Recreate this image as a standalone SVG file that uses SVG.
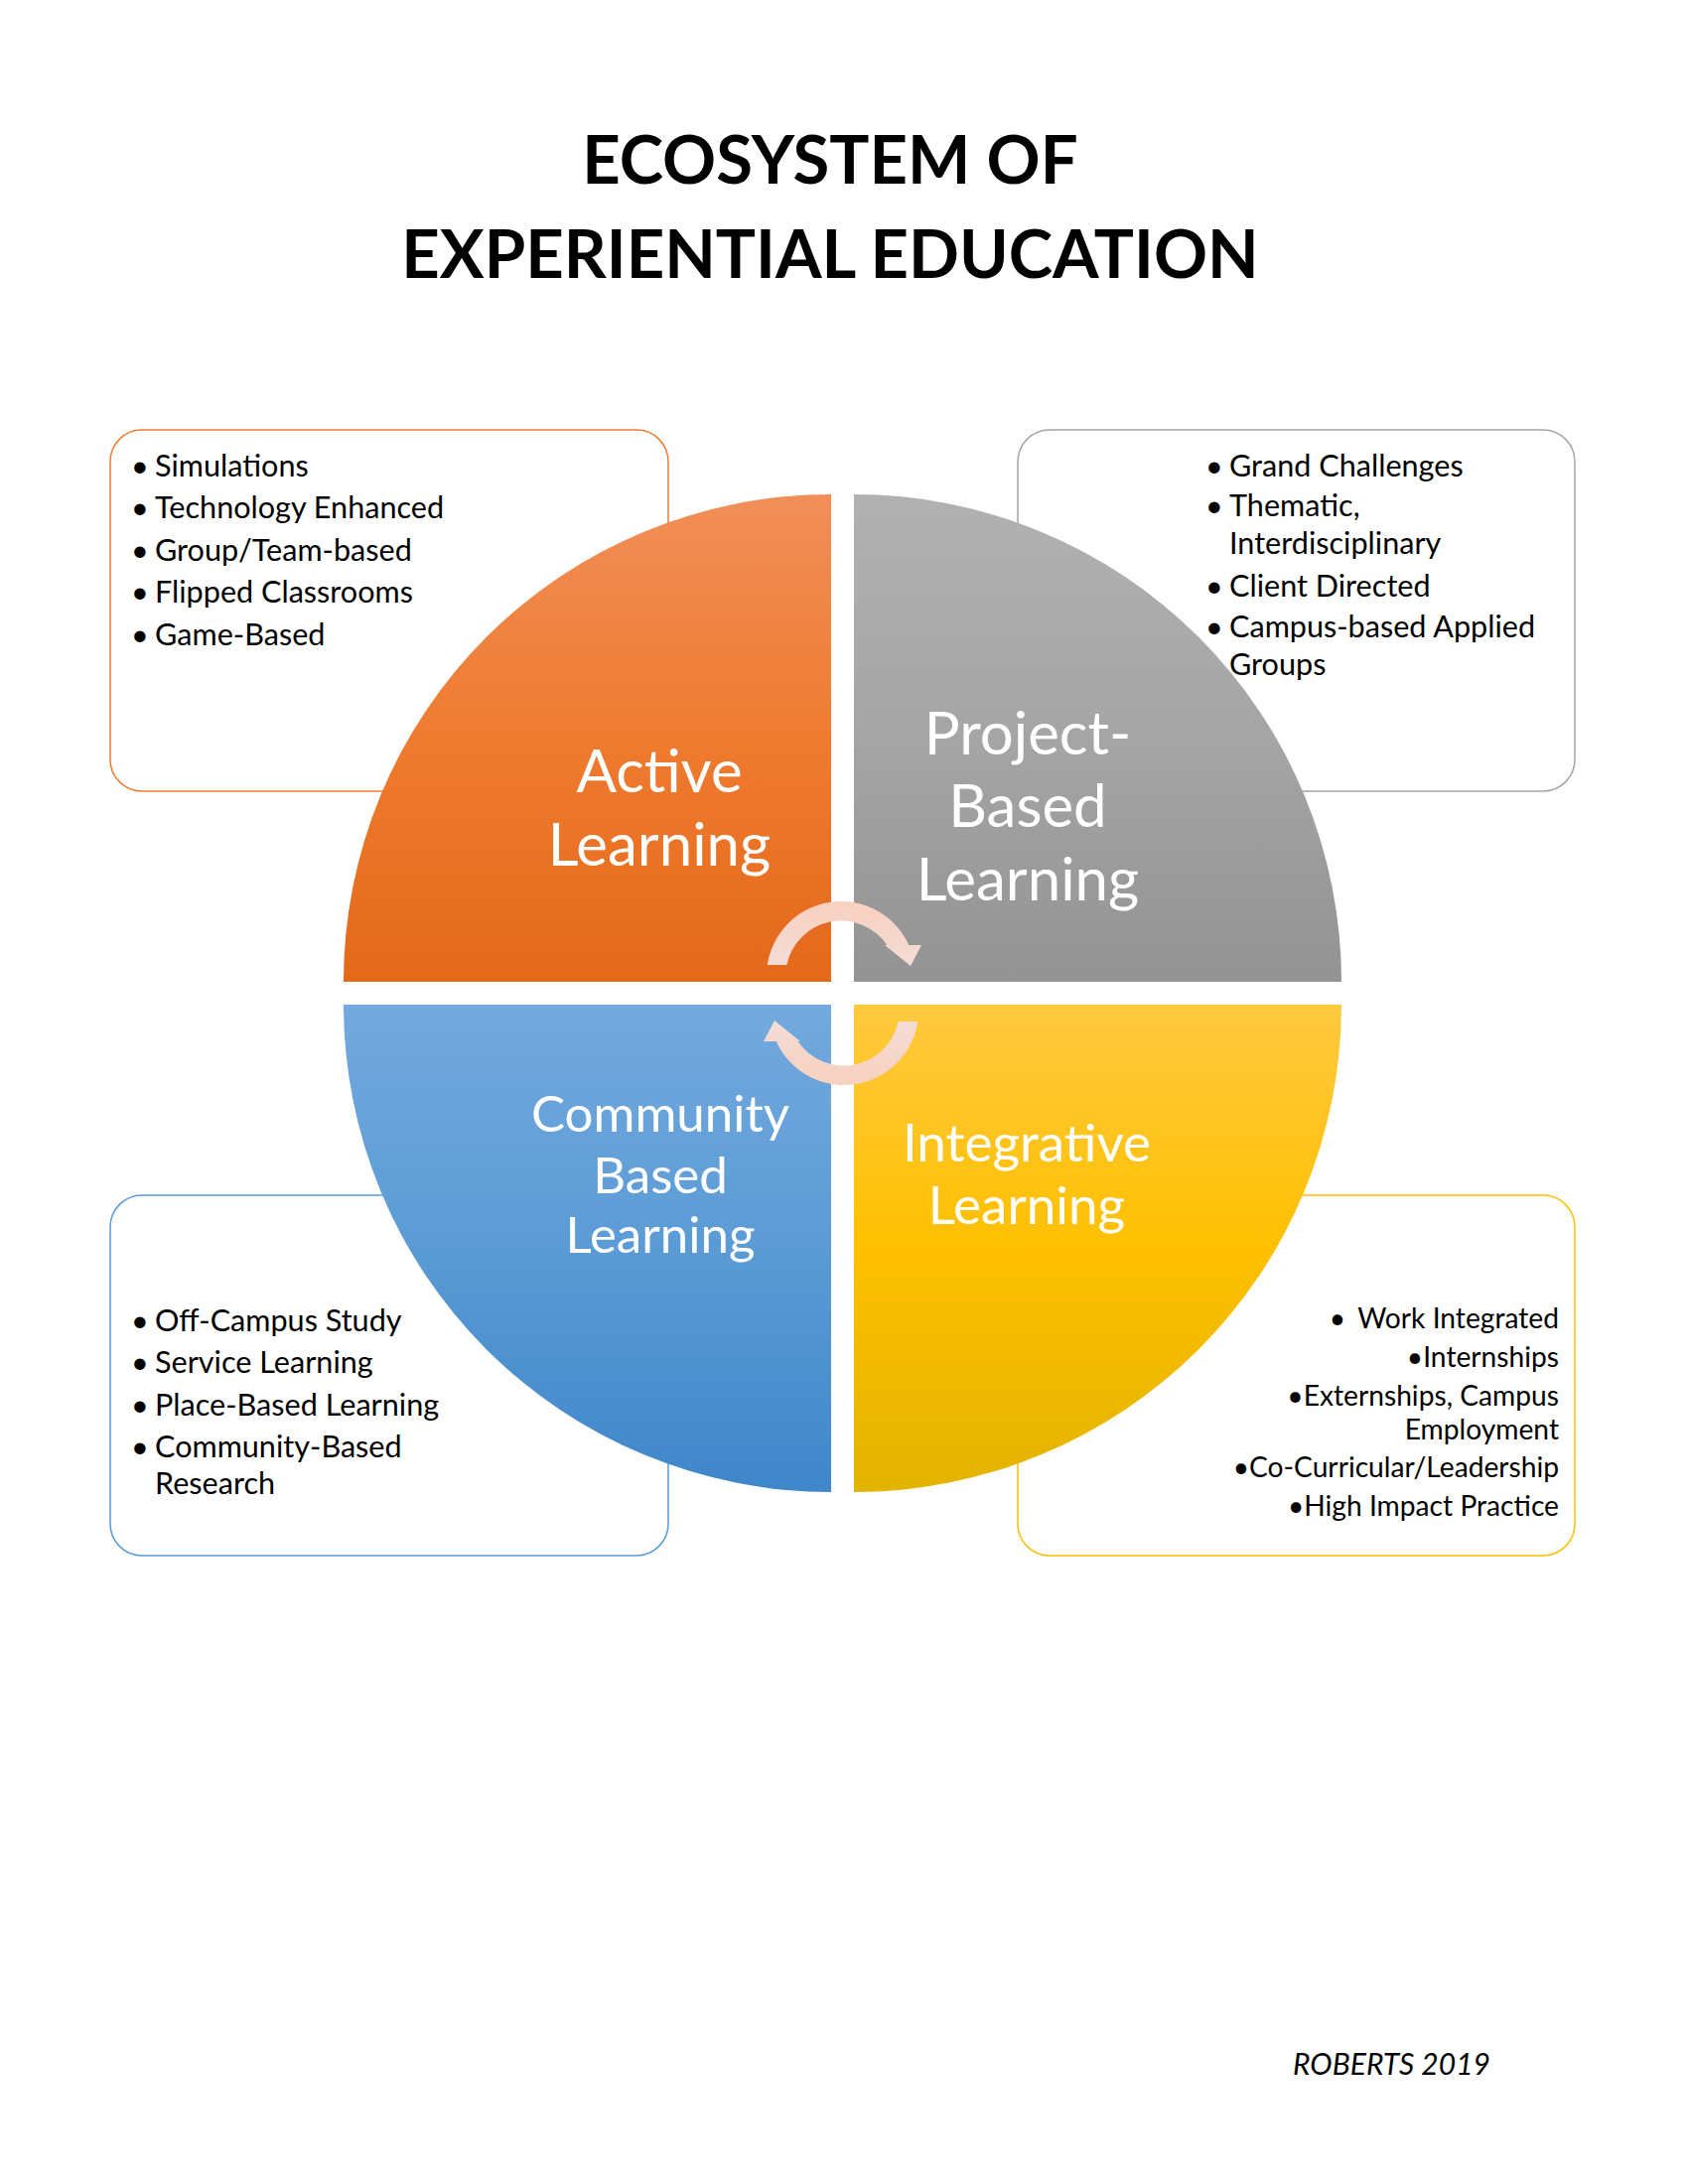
<svg xmlns="http://www.w3.org/2000/svg" width="1700" height="2200" viewBox="0 0 1700 2200">
  <defs>
    <linearGradient id="gOrange" x1="0" y1="0" x2="0" y2="1">
      <stop offset="0" stop-color="#F18E58"/>
      <stop offset="0.5" stop-color="#EF7B30"/>
      <stop offset="1" stop-color="#E3691A"/>
    </linearGradient>
    <linearGradient id="gGray" x1="0" y1="0" x2="0" y2="1">
      <stop offset="0" stop-color="#B1B1B1"/>
      <stop offset="0.5" stop-color="#A5A5A5"/>
      <stop offset="1" stop-color="#939393"/>
    </linearGradient>
    <linearGradient id="gBlue" x1="0" y1="0" x2="0" y2="1">
      <stop offset="0" stop-color="#73A9DE"/>
      <stop offset="0.5" stop-color="#5B9BD5"/>
      <stop offset="1" stop-color="#3F86CA"/>
    </linearGradient>
    <linearGradient id="gYellow" x1="0" y1="0" x2="0" y2="1">
      <stop offset="0" stop-color="#FFC940"/>
      <stop offset="0.5" stop-color="#FFC000"/>
      <stop offset="1" stop-color="#E2B300"/>
    </linearGradient>
    <linearGradient id="gArrow" x1="0" y1="0" x2="0" y2="1">
      <stop offset="0" stop-color="#F8D0BF"/>
      <stop offset="1" stop-color="#F3DCD6"/>
    </linearGradient>
  </defs>
  <style>
    .title { font-family: Lato, "Liberation Sans", sans-serif; font-weight: 700; font-size: 67px; fill: #000; text-anchor: middle; }
    .box { fill: #fff; stroke-width: 1.5; }
    .list { font-family: Lato, "Liberation Sans", sans-serif; font-size: 30.6px; fill: #000; }
    .listR { font-family: Lato, "Liberation Sans", sans-serif; font-size: 28.2px; fill: #000; text-anchor: end; }
    .quad { font-family: Lato, "Liberation Sans", sans-serif; fill: #fff; text-anchor: middle; }
    .arrow { fill: url(#gArrow); }
    .credit { font-family: Lato, "Liberation Sans", sans-serif; font-style: italic; font-size: 30px; fill: #000; }
  </style>
  <rect width="1700" height="2200" fill="#fff"/>

  <g id="title">
    <text class="title" x="836" y="185">ECOSYSTEM OF</text>
    <text class="title" x="836" y="280">EXPERIENTIAL EDUCATION</text>
  </g>

  <g id="boxes">
    <rect id="box-active" class="box" x="111" y="433" width="562" height="364" rx="32" ry="32" stroke="#ED7D31"/>
    <rect id="box-project" class="box" x="1025" y="433" width="561" height="364" rx="32" ry="32" stroke="#A5A5A5"/>
    <rect id="box-community" class="box" x="111" y="1204" width="562" height="363" rx="32" ry="32" stroke="#5B9BD5"/>
    <rect id="box-integrative" class="box" x="1025" y="1204" width="561" height="363" rx="32" ry="32" stroke="#FFC000"/>
  </g>

  <g id="node-active">
    <path d="M 837 989 L 346 989 A 491 491 0 0 1 837 498 Z" fill="url(#gOrange)"/>
    <text class="quad" font-size="60" x="664" y="798">Active</text>
    <text class="quad" font-size="60" x="664" y="872">Learning</text>
  </g>
  <g id="node-project">
    <path d="M 860 989 L 860 498 A 491 491 0 0 1 1351 989 Z" fill="url(#gGray)"/>
    <text class="quad" font-size="60" x="1035" y="760">Project-</text>
    <text class="quad" font-size="60" x="1035" y="833">Based</text>
    <text class="quad" font-size="60" x="1035" y="907">Learning</text>
  </g>
  <g id="node-integrative">
    <path d="M 860 1012 L 1351 1012 A 491 491 0 0 1 860 1503 Z" fill="url(#gYellow)"/>
    <text class="quad" font-size="53" x="1034" y="1170">Integrative</text>
    <text class="quad" font-size="53" x="1034" y="1233">Learning</text>
  </g>
  <g id="node-community">
    <path d="M 837 1012 L 837 1503 A 491 491 0 0 1 346 1012 Z" fill="url(#gBlue)"/>
    <text class="quad" font-size="51" x="665" y="1140">Community</text>
    <text class="quad" font-size="51" x="665" y="1202">Based</text>
    <text class="quad" font-size="51" x="665" y="1262">Learning</text>
  </g>

  <g id="connectors">
    <path id="arrow-top" class="arrow" d="M 772.8 972 A 75 75 0 0 1 915.3 952 L 928 952 L 917 973 L 891 952 L 893.4 952 A 56 56 0 0 0 792.3 972 Z"/>
    <path id="arrow-bottom" class="arrow" transform="rotate(180 848.5 1000.5)" d="M 772.8 972 A 75 75 0 0 1 915.3 952 L 928 952 L 917 973 L 891 952 L 893.4 952 A 56 56 0 0 0 792.3 972 Z"/>
  </g>

  <g id="list-active" class="list">
    <text x="132" y="480">•</text><text x="156" y="480">Simulations</text>
    <text x="132" y="522">•</text><text x="156" y="522">Technology Enhanced</text>
    <text x="132" y="565">•</text><text x="156" y="565">Group/Team-based</text>
    <text x="132" y="607">•</text><text x="156" y="607">Flipped Classrooms</text>
    <text x="132" y="650">•</text><text x="156" y="650">Game-Based</text>
  </g>

  <g id="list-project" class="list">
    <text x="1214" y="480">•</text><text x="1238" y="480">Grand Challenges</text>
    <text x="1214" y="520">•</text><text x="1238" y="520">Thematic,</text>
    <text x="1238" y="558">Interdisciplinary</text>
    <text x="1214" y="601">•</text><text x="1238" y="601">Client Directed</text>
    <text x="1214" y="642">•</text><text x="1238" y="642">Campus-based Applied</text>
    <text x="1238" y="680">Groups</text>
  </g>

  <g id="list-community" class="list">
    <text x="132" y="1341">•</text><text x="156" y="1341">Off-Campus Study</text>
    <text x="132" y="1383">•</text><text x="156" y="1383">Service Learning</text>
    <text x="132" y="1426">•</text><text x="156" y="1426">Place-Based Learning</text>
    <text x="132" y="1468">•</text><text x="156" y="1468">Community-Based</text>
    <text x="156" y="1505">Research</text>
  </g>

  <g id="list-integrative" class="listR">
    <text x="1347" y="1338" text-anchor="middle">•</text><text x="1570" y="1338">Work Integrated</text>
    <text x="1570" y="1377">•Internships</text>
    <text x="1570" y="1416">•Externships, Campus</text>
    <text x="1570" y="1450">Employment</text>
    <text x="1570" y="1488">•Co-Curricular/Leadership</text>
    <text x="1570" y="1527">•High Impact Practice</text>
  </g>

  <g id="credit">
    <text class="credit" x="1302" y="2090">ROBERTS 2019</text>
  </g>
</svg>
